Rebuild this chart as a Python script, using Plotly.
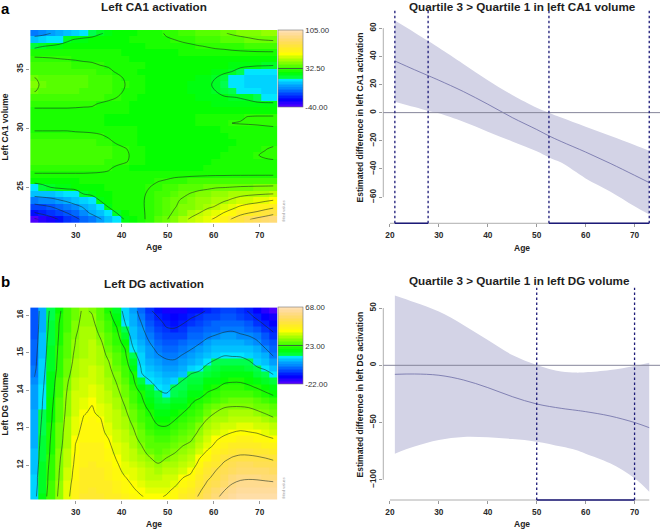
import colorsys
import plotly.graph_objects as go

W, H = 660, 530

# ---------- data: heat-map grids ----------
age_grid = [21, 22.79, 24.59, 26.38, 28.17, 29.97, 31.76, 33.55, 35.34, 37.14, 38.93, 40.72, 42.52, 44.31, 46.1,
            47.9, 49.69, 51.48, 53.28, 55.07, 56.86, 58.66, 60.45, 62.24, 64.03, 65.83, 67.62, 69.41, 71.21, 73]
ca1_volume = [22.24, 22.79, 23.33, 23.88, 24.42, 24.97, 25.51, 26.06, 26.61, 27.15, 27.70, 28.24, 28.79, 29.33, 29.88,
              30.43, 30.97, 31.52, 32.06, 32.61, 33.15, 33.70, 34.25, 34.79, 35.34, 35.88, 36.43, 36.97, 37.52, 38.07]
dg_volume = [11.16, 11.33, 11.50, 11.67, 11.85, 12.02, 12.19, 12.36, 12.53, 12.70, 12.87, 13.04, 13.22, 13.39, 13.56,
             13.73, 13.90, 14.07, 14.24, 14.41, 14.58, 14.76, 14.93, 15.10, 15.27, 15.44, 15.61, 15.78, 15.95, 16.12]

# one row per CA1 volume (bottom to top), one value per age
ca1_activation = [
    [-38,-34,-29,-23.5,-19,-14,-10,-5.5,-1,5,12,21,25,28.5,32,36,39.5,43,47.5,51.5,55,58.5,61.5,66,71,75.5,79.5,83,86,90],
    [-25,-21.5,-18,-15.5,-12,-8.5,-3,1.5,6,11,20,26,28,29,31.5,35,38,41,44,47,50,53.5,57,60.5,64,67.5,70,71.5,74,77],
    [-16,-14,-12,-9,-6,-2.5,1,5,10,21,27,28,28.5,29.5,31,34,37,39.5,42,44,46.5,48.5,50.5,54,57.5,61,63.5,65,66.5,68],
    [-6,-4.5,-3,-0.5,2,5,8,11.5,21,25,27,28,28.5,29.5,31,33.5,36,38.5,41,43,44.5,46,47.5,49,51,53,55,56.5,58.5,60],
    [4,5,6,7.5,9.5,12,20.5,23,25,26.5,27.5,28,28.5,29.5,30.5,32.5,34.5,36.5,38.5,40.5,42,43.5,45,46,47,48,48.5,49,49.5,50],
    [12,16,20,22,23.5,24.5,25.5,26,26.5,27,27.5,28,28.5,29,30,31.5,33,34.5,36,37,38,38.5,39.5,39.8,40.3,40.8,41,41.2,41.3,41.5],
    [24,25,25.5,26,26,26.5,27,27,27,27.5,27.5,28,28,28.5,29,29.8,30.5,31.5,32,32.5,33,33.5,33.8,34,34.2,34.4,34.6,34.8,34.9,35],
    [29.5,29.5,29.5,29.5,29.5,29.5,29.5,29.5,29.5,29,28.5,28,28,28,28,28,28.3,28.6,28.8,29,29.1,29.2,29.3,29.3,29.4,29.4,29.4,29.4,29.4,29.4],
    [32,32,32,32,32,32,32,31.5,31,30.7,29,27.5,26.5,26,25.5,25.5,25.5,26,26,26.5,26.5,27,27,27.5,27.5,28,28,28,28,28],
    [34,34,34,34,34,34,33.5,33,33,32,31.5,30.6,28.5,27,26,25.5,25.5,25.5,26,26,26.5,26.5,27,27,27.5,28,28.5,29,29.3,29.5],
    [35,35,35,35,35,34.5,34,34,33.5,33,32,31,29,27.5,26,25.5,25.5,25.5,25.5,26,26,26.5,26.5,27,27.5,28,28.5,29.8,30.6,31],
    [34.5,34.5,34.5,34.5,34,34,34,33.5,33,32.5,31.5,30.4,28.5,27,26,25.5,25,25,25,25.5,25.5,26,26,26.5,27,27.5,28,28.8,29.8,30.6],
    [33,33,33,33,33,33,33,32.5,32,31,29.5,28,27,26.5,26,25.5,25,25,25,25,25.5,25.5,26,26,26.5,27,27.5,28,28.5,29],
    [32,32,32,32,32,32,31.5,31,30.6,29.5,28.5,27.5,27,26.5,26,25.5,25.5,25.5,25.5,25.5,25.5,26,26,26.5,27,27,27.5,28,28.5,28.5],
    [29.5,29.5,29.5,29.5,29.5,29,29,29,28.5,28,27.5,27,27,26.5,26,26,26,26,26,26,26,26.5,26.5,27,27.5,28,28,28.5,29,29.3],
    [27,27,27,27,27,27,27,27,27,26.5,26.5,26,26,26,26,26,26,26.5,26.5,26.5,27,27.5,28,29,30.1,30.3,30.5,30.6,30.7,30.8],
    [27,27,27,27,27,27,27,27,27,26.5,26.5,26.5,26,26,26,26,26,26.5,26.5,26.5,27,27,27.5,28,28.5,29.3,30.2,30.5,30.5,30.5],
    [29,29,29,29,29,29,29,29,28.5,28,27.5,27,26.5,26,26,26,26,26,26,26,26,25.5,25.5,25.5,26,26,26,26,26,26],
    [32,32,32,32,32,31.5,31,30.7,29.5,29,28,27,26.5,26,26,25.5,25.5,25.5,25,25,24.5,24,23.5,23.5,23.5,23,22.5,22,22,22],
    [34,34,34,34,34,33.5,33.5,33,32.5,31,30,28.5,27.5,26.5,26,25.5,25.5,25,24.5,24,23.5,22.5,21.5,21,20.5,19.5,18,15,12,11.5],
    [40.5,38,37,36,36,35.5,35,34.5,34,33,31.5,29.5,28,27,26.5,26,25.5,25,24.5,23.5,22.5,21.5,20,16.5,13,11,10,10,9,9],
    [42,38.5,37,36.5,36,36,35.5,35,34.5,33.5,32,30,28.5,27,26.5,26,25.5,25,24.5,23.5,22.5,21,19,15,11.5,9.5,8,7,7,7],
    [40.5,37.5,37,36,36,36,35.5,35,34.5,33,31.5,29.5,28.5,27.5,26.5,26,25.5,25.5,25,24,23,22,20,16.5,12,10.5,9,8,8,8],
    [34,34,34,34,34,33.5,33,32.5,32,31,29.5,28.5,27.5,26.5,26,25.5,25.5,25.5,25.5,25,24.5,24,23,21.5,19.8,15,12,11,10,10],
    [33,33,33,32.5,32.5,32,31.5,31,30,29.5,29,28.5,27.5,27,26.5,26,26,26,26,26,25.5,25.5,25,24,23.5,23,22,21,20.8,20.3],
    [30.8,30.6,30.4,30.1,29.8,29.5,29,28.8,28.5,28,27.5,27,26.5,26.5,26.5,26.5,26.5,26.5,26.5,26.5,26.5,26.5,26.5,26,26,25.5,25,24.5,24,24],
    [28,28,28,27.5,27.5,27.5,27.5,27,27,27,27,26.5,26.5,26.5,26.5,26.5,26.5,26.5,27,27,28,28.5,28.8,29,29.2,29.3,29.4,29.5,29.5,29.5],
    [16,19.5,21,23,24,25,25.5,26,26,26,26,26.5,26.5,26.5,27,27,27.5,28,28.5,29,29.8,30.3,30.8,31,31.5,32,32.5,33,33.5,34],
    [6,8,10,12,18,21,23,24,25,25.5,26,26.5,27,27.5,28,28.8,29.5,30,31,32,33,34,35,36,37,38,38.8,39.8,40.5,41],
    [-6,-4,0,3,6,9,11,14,19,22,24,25,26,27,28,29,30.5,32,33.5,35,36,37,38,39.5,41,42,43,44,44.5,45],
]

# one column per age (left to right), each listed from the lowest DG volume to the highest
dg_activation_by_age = [
    [8,7.5,7,7,6.5,6,5.5,5,4.5,4.5,4,4,3.5,3.5,3,3,2,1.5,1,-0.5,-2,-2.5,-3,-3.5,-4,-4.3,-4.5,-4.8,-5,-5],
    [16,15.5,15,15,14.5,14,13.5,13.5,13,12.5,12,11.5,11,10.6,10.2,10,9.5,9,8.5,8,7.5,7,6.5,6,5.5,5,4.5,4.2,4,3.5],
    [24,23.5,23,22.8,22.5,22,21.5,21,20.8,20.4,20,19.5,19,18.8,18.3,17.8,17.3,16.8,16.5,16,15.5,15,14.5,14.2,13.8,13.3,12.8,12.5,12,11.5],
    [31.4,31,30.5,30.1,29.8,29.4,29,28.5,28,27.5,27.1,26.7,26.3,25.9,25.5,25.1,24.5,24,23.4,22.7,22,21.8,21.5,21.2,20.9,20.5,20.2,20,19.5,19],
    [38.5,38,37.5,36.5,36.2,35.2,35,34,33.3,33,32.9,32.4,32,31.6,31.3,31,30.6,30,29.4,28.4,27.4,26.6,26.1,25.6,25,24.9,24.4,24,23.7,23.5],
    [44,43.5,43,42.5,42,41.5,41,40.5,40.2,39.4,38.7,38.2,37.7,37.2,36.7,36.2,35.6,35,34.4,33.5,32.8,32,31.5,30.8,30.2,29.8,29.2,28.7,28.3,27.8],
    [46.6,46.3,46,45.5,45,44.5,44,43.4,42.8,42.2,41.6,41,40.4,39.7,38.8,37.8,37,36.2,35.6,35,34.6,34,33.6,33.2,32.8,32.4,32,31.7,31.3,31],
    [47,46.6,46.2,45.8,45.3,44.8,44.3,43.8,43.2,42.6,42,41.5,41,40.6,40.2,39.2,38.5,38,37.3,36.7,36,35.5,35,34.5,33.8,33.2,32.5,31.5,30.5,29.4],
    [46.8,46.4,46,45.5,45,44.5,44,43.5,42.8,42.2,41.6,41,40.3,39,38,37.3,36.7,36,35.4,34.7,34,33.5,32.8,32,31,29.6,28.2,27,26,25],
    [46,45.5,45,44.3,43.7,43,42.3,41.5,40.8,40,38.6,37.8,37.1,36.4,35.7,35,34.2,33.4,32.6,31.8,31,30.2,28.7,27.5,26.5,25.4,24.3,23.2,22,20.9],
    [45.5,44.5,43.5,42.5,41.3,40.5,39.6,38.8,38,37.2,36.3,35.5,34.7,33.9,33,32.2,31.4,30.5,29.6,28.5,27.3,26.2,25,24,22.8,21.7,20.6,19,17.3,15.5],
    [43,42,41,40.2,38.9,38,37.3,36.6,35.6,34.7,33.8,32.9,32,31,30,29,28,26.9,25.7,24.6,23.5,22.4,21.2,20,17.6,15.5,12,10.2,8.5,7],
    [41,40.4,39.6,38.5,37.5,36.4,35.3,34.2,33,32,30.8,29.7,28.3,27.1,25.9,24.7,23.5,22.3,21,19.8,17,14.5,12,10.2,8,6.5,5.5,4.5,3.5,2.6],
    [40.2,39.2,38,37,36,34.7,33,31.5,30,28,26.9,25.7,24.5,23.4,22.2,21,19.7,16.5,13.5,10.3,9.5,8.3,7,5.5,4.2,3,1.5,0,-1.5,-3],
    [39.3,38.2,37,35.5,34,32.3,30.3,28,26.5,25.2,24,22.6,21.3,20.2,18,16,14.3,12.3,10.2,8.5,6.6,4.8,3.2,1.8,0,-2,-4,-5.5,-7.5,-9],
    [39.2,37.7,36,34.5,32.5,30.4,28,26.5,25,23.4,21.8,20.3,18.3,16.6,14.8,13,11,9.5,8,6,4,2,0.3,-1.5,-3,-4.7,-6.3,-8,-10,-13],
    [40.5,38.8,37.2,35.7,34,32,30,28,26,24,22,20,18,16,14,12,10.2,8.4,6.7,4.7,2.8,0.9,-1.2,-3.8,-5.7,-7.5,-9.3,-11,-13,-15.5],
    [42.5,41,39,37.2,35.3,33.5,31.5,29.5,27.5,25.5,23.6,21.7,19.7,18,16,14,12,10.5,7,4.8,2.8,0.7,-1.5,-3.5,-5.5,-7.5,-9.5,-11.5,-13.5,-16],
    [45.3,43.5,41.7,39.9,37.4,35.5,33.5,31.6,29.8,27,25.2,23.5,21.8,20,17.5,15,13,12,10.5,6.8,4.7,2.6,0.3,-2,-4,-6,-8,-10.2,-12.5,-15],
    [46.8,44.8,42.8,41,39.3,37,35,33,31.2,29.3,27.2,25.5,23.8,22,20.5,19,17,14.8,12.5,10.5,7,4,1.8,-0.2,-2,-4,-5.8,-8,-10.5,-13],
    [50.8,49,46.8,45,43.3,41.5,39.7,37,35,33,31,29.3,26,24,22.5,20.8,17.5,15.5,13.5,11.4,9,6.5,3.8,1.7,-0.5,-2.5,-4.5,-6.8,-9,-11.5],
    [55,53,51,49,47,44.7,42.7,40.7,38,36,34,32,30.3,27,25,22.8,20.7,18,15.8,13.5,11.4,9.2,5.8,3.5,1.5,-0.7,-3,-5,-7,-9.5],
    [58.5,56,53.5,51.7,50,47.5,45,43,41,39.3,37.3,35.3,32.8,30.3,27.7,24.7,22.2,19.5,17.5,15.3,13,10.8,8.3,6,3.7,0.5,-2.2,-4,-6,-8],
    [62,59.8,56.7,54.7,52.7,50.9,48.5,45.7,43.2,41.2,38.8,35.7,33.7,31.7,29.6,26.2,23.7,21.3,19.2,16.3,14.3,12,9.8,6.4,3.9,1.6,-1,-3,-5,-7],
    [63.5,61.5,60,57.5,55,52.7,50.4,47.7,45.2,42.7,40,37.2,34.7,32.2,30,27.3,24.7,22.2,19.5,17,14.7,12.2,9.5,6.4,4,1.7,-0.5,-3,-5,-7],
    [65,63,61.2,59,56.5,53.8,51.2,48.7,45.9,43.4,40.8,38,35.3,32.5,30,27,24.4,21.9,19.5,16.8,14.2,11.8,9.4,6,3.3,0.9,-1.5,-3.5,-6,-8],
    [65.6,63.6,61.6,59.3,56.5,53.9,51.2,48.5,45.8,43,40.3,37.5,34.8,32.2,29.6,27,24,21,18.6,15.8,13.2,10.5,7.9,5.3,2.7,0.1,-2.7,-5.5,-8.2,-10.6],
    [65.7,63.5,61.4,59.2,56.3,53.5,50.7,48.1,45.2,42.5,39.7,36.8,34,31.2,28.3,25.5,22.5,19.7,16.6,13.6,10.6,8.2,5.8,3.4,1,-1.8,-5,-8,-11.1,-14.3],
    [65.5,63.3,61.2,58.7,55.8,52.8,50,47,44.2,41.3,38.4,35.6,32.6,29.7,26.7,23.7,20.9,18,15.2,12.2,9.4,6.5,3.4,0.3,-2.5,-5.3,-8.2,-11,-13.8,-18],
    [65,63,61,58,54.8,51.8,49,46,43,40.2,37,33.8,30.9,28.2,25.3,22,19.3,16.2,13.2,10.1,6.7,3,-0.5,-3.2,-5.8,-8.4,-11,-13.5,-16.5,-21],
]
dg_activation = [list(r) for r in zip(*dg_activation_by_age)]

# ---------- data: difference curves ----------
ca1_diff_age = [21, 25, 28, 30, 35, 40, 45, 50, 52.5, 55, 60, 65, 70, 73]
ca1_diff_fit = [36.7, 30.5, 26, 23, 15, 6, -3.5, -12, -16.5, -20.5, -28, -36, -44.5, -49.7]
ca1_diff_upper = [65.4, 57, 50.5, 46, 34.5, 23, 12.5, 3.5, 0, -3.5, -10, -16.5, -23, -27]
ca1_diff_lower = [7.8, 4, 1, -0.5, -6.5, -13.5, -20.5, -27.5, -31.8, -35.5, -46.7, -56, -66.5, -72.3]
ca1_sig_windows = [[21, 27.8], [52.5, 73]]

dg_diff_age = [21, 25, 30, 35, 40, 45, 50, 55, 58, 60, 65, 70, 73]
dg_diff_fit = [-7.9, -7.6, -8.7, -12.8, -19.5, -27.4, -33.8, -37.6, -39.3, -40.5, -44.3, -50, -54.5]
dg_diff_upper = [60.9, 55, 46.9, 35.2, 22, 9, 0.3, -5.5, -6.4, -6.1, -4.1, -0.6, 2.3]
dg_diff_lower = [-77.2, -71, -65.2, -62.6, -62.9, -64.4, -66.7, -71, -74, -77.2, -85.6, -98.7, -110.4]
dg_sig_windows = [[50, 70]]

age_ticks_heat = [30, 40, 50, 60, 70]
age_ticks_diff = [20, 30, 40, 50, 60, 70]
ca1_vol_ticks = [25, 30, 35]
dg_vol_ticks = [12, 13, 14, 15, 16]
ca1_diff_ticks = [-60, -40, -20, 0, 20, 40, 60]
dg_diff_ticks = [-100, -50, 0, 50]

# ---------- style ----------
def topo_colors(n=50):
    j = n // 3
    k = n // 3
    i = n - j - k
    seq = lambda a, b, m: [a + (b - a) * t / (m - 1) for t in range(m)]
    hsv = [(h, 1, 1) for h in seq(43 / 60, 31 / 60, i)]
    hsv += [(h, 1, 1) for h in seq(23 / 60, 11 / 60, j)]
    hsv += [(h, s, 1) for h, s in zip(seq(10 / 60, 6 / 60, k), seq(1, 0.3, k))]
    out = []
    for h, s, v in hsv:
        r, g, b = colorsys.hsv_to_rgb(h, s, v)
        out.append(f"rgb({round(r*255)},{round(g*255)},{round(b*255)})")
    return out

cols = topo_colors()
topo = []
for idx, c in enumerate(cols):
    topo.append([idx / len(cols), c])
    topo.append([(idx + 1) / len(cols), c])

FONT = "Liberation Sans"
TICK = dict(family=FONT, size=8.3, color="#2a2a2a", weight="bold")
NAVY = "#1c1a78"
AXIS = "#9a9a9a"
CONT = "rgba(25,45,35,0.8)"
dom_x = lambda a, b: [a / W, b / W]
dom_y = lambda top, bottom: [1 - bottom / H, 1 - top / H]

fig = go.Figure()

def heat_panel(n, z, yvals, zmin, zmax, mid, levels, extra, top, bottom, yrange, yticks):
    ax, ay = f"x{n}", f"y{n}"
    fig.add_trace(go.Heatmap(
        x=age_grid, y=yvals, z=z, zmin=zmin, zmax=zmax, colorscale=topo, xaxis=ax, yaxis=ay, hoverinfo="skip",
        colorbar=dict(
            x=277.8 / W, xanchor="left", y=1 - top / H, yanchor="top", thickness=25, thicknessmode="pixels",
            len=77, lenmode="pixels", xpad=0, ypad=0, outlinewidth=0.6, outlinecolor="#777", borderwidth=0,
            tickmode="array", tickvals=[zmin, mid, zmax],
            ticktext=[f"{zmin:.2f}", f"{mid:.2f}", f"{zmax:.2f}"],
            ticks="inside", ticklen=25, tickwidth=0.8, tickcolor="#3a6a3a",
            tickfont=dict(family=FONT, size=7.8, color="#333"),
        ),
    ))
    for lev in [levels] + extra:
        fig.add_trace(go.Contour(
            x=age_grid, y=yvals, z=z, xaxis=ax, yaxis=ay, showscale=False, hoverinfo="skip",
            autocontour=False, contours=dict(coloring="none", start=lev[0], end=lev[1], size=lev[2]),
            line=dict(color=CONT, width=0.7, smoothing=1),
        ))
    fig.update_layout({
        f"xaxis{n}": dict(domain=dom_x(30.2, 277.6), range=[20.1, 73.9], anchor=ay, tickmode="array",
                          tickvals=age_ticks_heat, ticks="outside", ticklen=3, tickwidth=0.7, tickcolor=AXIS,
                          tickfont=TICK, showgrid=False, zeroline=False, showline=False, ticklabelstandoff=1),
        f"yaxis{n}": dict(domain=dom_y(top, bottom), range=yrange, anchor=ax, tickmode="array",
                          tickvals=yticks, ticks="outside", ticklen=3, tickwidth=0.7, tickcolor=AXIS,
                          tickfont=TICK, tickangle=-90, showgrid=False, zeroline=False, showline=False),
    })

def diff_panel(n, age, fit, upper, lower, windows, top, bottom, yrange, yticks):
    ax, ay = f"x{n}", f"y{n}"
    fig.add_trace(go.Scatter(x=age, y=lower, mode="lines", line=dict(width=0, shape="spline", color="#d3d3e6"),
                             xaxis=ax, yaxis=ay, showlegend=False, hoverinfo="skip"))
    fig.add_trace(go.Scatter(x=age, y=upper, mode="lines", line=dict(width=0, shape="spline", color="#d3d3e6"),
                             fill="tonexty", fillcolor="#d3d3e6", xaxis=ax, yaxis=ay, showlegend=False,
                             hoverinfo="skip"))
    fig.add_trace(go.Scatter(x=age, y=fit, mode="lines", line=dict(width=0.8, shape="spline", color="#6c6ca6"),
                             xaxis=ax, yaxis=ay, showlegend=False, hoverinfo="skip"))
    fig.update_layout({
        f"xaxis{n}": dict(domain=dom_x(383.3, 660), range=[18.64, 75.2], anchor=ay, tickmode="array",
                          tickvals=age_ticks_diff, ticks="outside", ticklen=3, tickwidth=0.7, tickcolor=AXIS,
                          tickfont=TICK, showgrid=False, zeroline=False, showline=False, ticklabelstandoff=1),
        f"yaxis{n}": dict(domain=dom_y(top, bottom), range=yrange, anchor=ax, tickmode="array",
                          tickvals=yticks, ticks="outside", ticklen=3, tickwidth=0.7, tickcolor=AXIS,
                          tickfont=TICK, tickangle=-90, showgrid=False, zeroline=False, showline=False),
    })
    # R-style axis lines spanning the tick range only
    fig.add_shape(type="line", xref=ax, yref=f"{ay} domain", x0=min(age_ticks_diff), x1=max(age), y0=0, y1=0,
                  line=dict(color=AXIS, width=0.8))
    fig.add_shape(type="line", xref=f"{ax} domain", yref=ay, x0=0, x1=0, y0=min(yticks), y1=max(yticks),
                  line=dict(color=AXIS, width=0.8))
    fig.add_shape(type="line", xref=f"{ax} domain", yref=ay, x0=0, x1=1, y0=0, y1=0,
                  line=dict(color="#85859a", width=1))
    for a, b in windows:
        fig.add_shape(type="line", xref=ax, yref=f"{ay} domain", x0=a, x1=b, y0=0, y1=0,
                      line=dict(color=NAVY, width=1.6))
        for v in (a, b):
            fig.add_shape(type="line", xref=ax, yref=f"{ay} domain", x0=v, x1=v, y0=0, y1=1,
                          line=dict(color=NAVY, width=1.3, dash="2.5px,2.5px"))

heat_panel(1, ca1_activation, ca1_volume, -40, 105, 32.5, (20, 80, 10), [(-36, 0, 12)], 30, 222.7, [21.97, 38.34], ca1_vol_ticks)
heat_panel(2, dg_activation, dg_volume, -22, 68, 23, (-10, 60, 10), [], 307.3, 500, [11.07, 16.21], dg_vol_ticks)
diff_panel(3, ca1_diff_age, ca1_diff_fit, ca1_diff_upper, ca1_diff_lower, ca1_sig_windows, 10, 223.3, [-78.6, 72.9], ca1_diff_ticks)
diff_panel(4, dg_diff_age, dg_diff_fit, dg_diff_upper, dg_diff_lower, dg_sig_windows, 287.7, 500, [-117.7, 67.8], dg_diff_ticks)

def label(text, x, y, size=8.5, angle=0, weight="bold", color="#1e1e1e"):
    fig.add_annotation(text=text, xref="paper", yref="paper", x=x / W, y=1 - y / H, showarrow=False, textangle=angle,
                       xanchor="center", yanchor="middle", font=dict(family=FONT, size=size, color=color, weight=weight))

label("a", 5.5, 9, 15, color="#000")
label("b", 5.5, 281, 15, color="#000")
label("Left CA1 activation", 153.5, 7, 11.7)
label("Left DG activation", 153.5, 283, 11.7)
label("Quartile 3 > Quartile 1 in left CA1 volume", 522, 7, 11.7)
label("Quartile 3 > Quartile 1 in left DG volume", 519, 280, 11.7)
label("Age", 153.5, 247, 8.5)
label("Age", 153.5, 524, 8.5)
label("Age", 522, 247.5, 8.5)
label("Age", 522, 524, 8.5)
label("Left CA1 volume", 4.5, 127, 8.5, -90)
label("Left DG volume", 4.5, 404, 8.5, -90)
label("Estimated difference in left CA1 activation", 359.5, 118, 8.5, -90)
label("Estimated difference in left DG activation", 359.5, 395, 8.5, -90)
label("fitted values", 282.5, 211, 4, -90, "normal", "#999")
label("fitted values", 282.5, 488, 4, -90, "normal", "#999")

fig.update_layout(width=W, height=H, margin=dict(l=0, r=0, t=0, b=0), paper_bgcolor="white", plot_bgcolor="white",
                  showlegend=False)
fig.write_html("out.html", config={"displayModeBar": False},
               post_script="document.body.style.margin='0';document.documentElement.style.overflow='hidden';")
